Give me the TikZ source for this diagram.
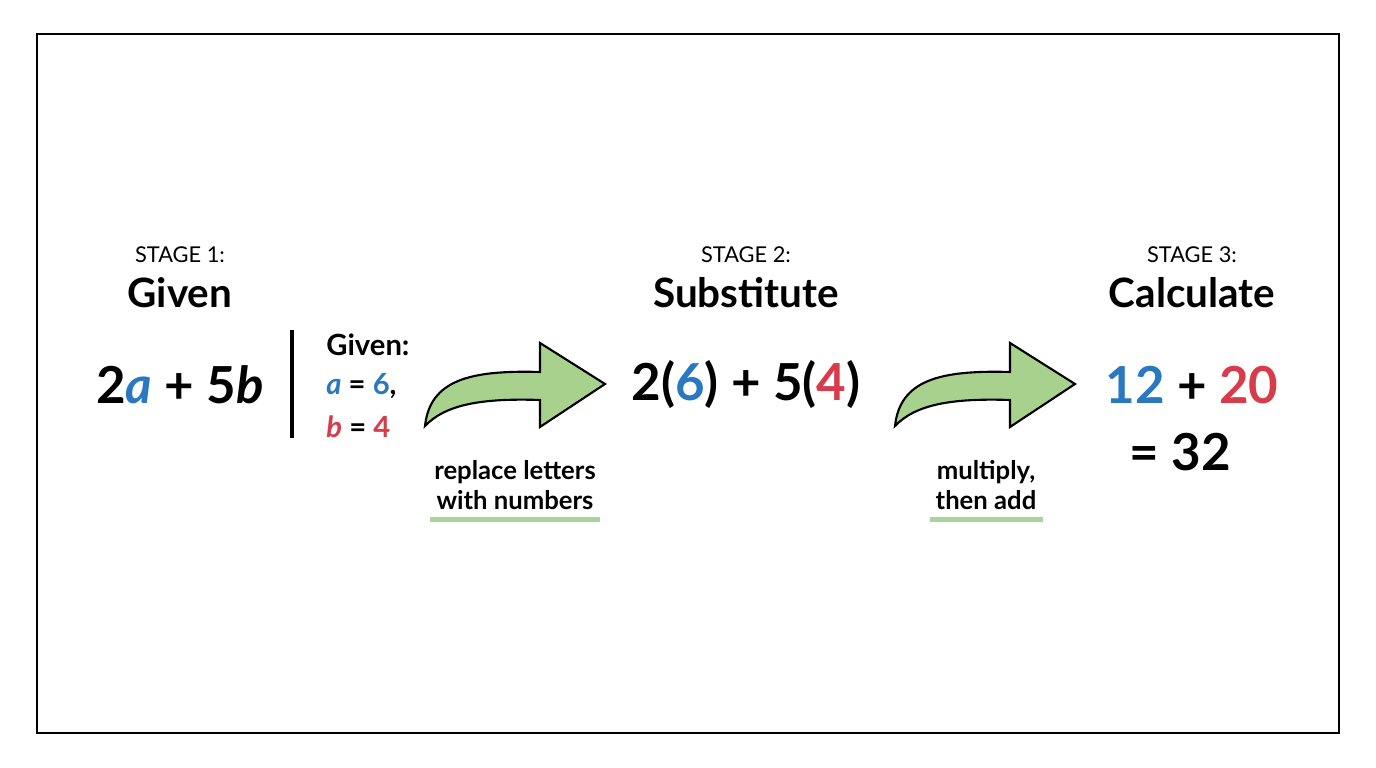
\documentclass[tikz,border=0pt]{standalone}
\usepackage{fontspec}
\setmainfont{Lato}
\definecolor{cblue}{HTML}{2A78C0}
\definecolor{cred}{HTML}{D63C4A}
\definecolor{cgreen}{HTML}{A9D18E}
\definecolor{uline}{HTML}{A8D59A}
\begin{document}
\begin{tikzpicture}[x=0.01cm,y=-0.01cm,
  stage/.style={font=\fontsize{6.2pt}{7pt}\selectfont},
  title/.style={font=\fontsize{11.5pt}{13pt}\selectfont\bfseries},
  expr/.style={font=\fontsize{14.5pt}{16pt}\selectfont\bfseries},
  given/.style={font=\fontsize{8.3pt}{9pt}\selectfont\bfseries,anchor=west},
  lab/.style={font=\fontsize{7.3pt}{8.4pt}\selectfont\bfseries,align=center},
  uln/.style={uline,line width=5*0.2845pt},
  garrow/.style={fill=cgreen,draw=black,line width=0.6pt,line join=miter}]
\draw[line width=0.6pt] (37,34) rectangle (1339,733);
\useasboundingbox (0,0) rectangle (1376,768);
\newcommand{\bigarrow}[1]{%
\begin{scope}[xshift=#1*0.01cm]
\draw[garrow] (425,426) .. controls (430,380) and (470,370) .. (540,372)
  -- (540,343) -- (605,384) -- (540,427) -- (540,400)
  .. controls (480,398) and (445,405) .. cycle;
\end{scope}}
% stage 1
\node[stage] (s1) at (180,255) {STAGE 1:};
\node[title] (t1) at (180,293) {Given};
\node[expr] (e1) at (180,385) {2\textcolor{cblue}{\itshape a} + 5\textit{b}};
\draw[line width=1pt] (292,330) coordinate (v1) -- (292,438) coordinate (v2);
\node[given] (g0) at (314,345) {Given:};
\node[given] (g1) at (314,386) {\textcolor{cblue}{\itshape a} = \textcolor{cblue}{6},};
\node[given] (g2) at (314,427) {\textcolor{cred}{\itshape b} = \textcolor{cred}{4}};
% arrow 1
\bigarrow{0}
\node[lab] (l1) at (515,485) {replace letters\\with numbers};
\draw[uln] (430,520) coordinate (u1) -- (600,520) coordinate (u2);
% stage 2
\node[stage] (s2) at (746,255) {STAGE 2:};
\node[title] (t2) at (746,293) {Substitute};
\node[expr] (e2) at (746,385) {2(\textcolor{cblue}{6}) + 5(\textcolor{cred}{4})};
% arrow 2
\bigarrow{470}
\node[lab] (l2) at (986,485) {multiply,\\then add};
\draw[uln] (930,520) coordinate (u3) -- (1043,520) coordinate (u4);
% stage 3
\node[stage] (s3) at (1192,255) {STAGE 3:};
\node[title] (t3) at (1192,293) {Calculate};
\node[expr] (e3) at (1192,385) {\textcolor{cblue}{12} + \textcolor{cred}{20}};
\node[expr] (e4) at (1180,452) {= 32};
\end{tikzpicture}
\end{document}
